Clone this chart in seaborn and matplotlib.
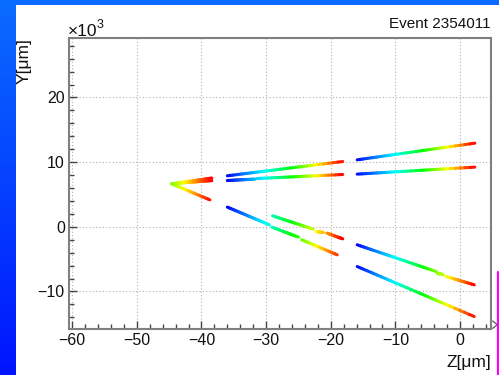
import numpy as np
import pandas as pd
import seaborn as sns
import matplotlib.pyplot as plt
from matplotlib.colors import LinearSegmentedColormap
from matplotlib.ticker import MultipleLocator, FuncFormatter
from matplotlib.lines import Line2D
from matplotlib.patches import Rectangle

# Track pieces (Z in um, Y in um)
station = [0, 0, 0,
           1, 1, 1, 1, 1, 1, 1, 1, 1,
           2, 2, 2, 2, 2, 2]
z_start = [-44.6, -44.6, -44.6,
           -36.0, -36.0, -31.4, -36.0, -29.1, -24.5, -29.0, -22.2, -20.6,
           -15.9, -15.9, -15.9, -3.5, -2.1, -15.9]
y_start = [6650, 6650, 6650,
           7890, 7160, 7470, 3050, -50, -2000, 1700, -730, -970,
           10360, 8150, -2780, -7160, -7690, -6140]
z_end = [-38.4, -38.4, -38.7,
         -18.15, -31.7, -18.15, -29.5, -25.0, -19.0, -22.7, -21.15, -18.15,
         2.3, 2.3, -3.7, -2.6, 2.2, 2.2]
y_end = [7550, 7150, 4170,
         10100, 7380, 8090, 310, -1590, -4330, -360, -880, -1860,
         12940, 9230, -6910, -7420, -8970, -13870]

# Z range of each station, used for the colour scale along the tracks
station_lo = [-57.2, -36.0, -15.9]
station_hi = [-38.4, -18.15, 2.3]

event_label = 'Event 2354011'

# Settings
sns.set_theme(style='white')
plt.rcParams['font.family'] = ['Liberation Sans', 'DejaVu Sans']
plt.rcParams['axes.unicode_minus'] = True

trk_cmap = LinearSegmentedColormap.from_list(
    'trk', [(0.0, '#0000ff'), (0.33, '#00ffff'), (0.57, '#00ff00'),
            (0.78, '#ffff00'), (1.0, '#ff0000')])

# split each piece into short pieces so the colour can run along it
rows = []
seg = 0
for st, z0, y0, z1, y1 in zip(station, z_start, y_start, z_end, y_end):
    t = np.linspace(0, 1, 25)
    zz = z0 + (z1 - z0) * t
    yy = y0 + (y1 - y0) * t
    lo, hi = station_lo[st], station_hi[st]
    for k in range(len(t) - 1):
        c = np.clip(((zz[k] + zz[k + 1]) / 2 - lo) / (hi - lo), 0, 1)
        rows.append((zz[k], yy[k], seg, c))
        rows.append((zz[k + 1], yy[k + 1], seg, c))
        seg += 1
df = pd.DataFrame(rows, columns=['z', 'y', 'seg', 'c'])

fig = plt.figure(figsize=(4.99, 3.75), dpi=100)

# blue frame + white canvas
bg = fig.add_axes([0, 0, 1, 1], zorder=-10)
grad = np.linspace(0, 1, 256).reshape(-1, 1)
bg.imshow(grad, aspect='auto', extent=[0, 1, 0, 1], origin='upper',
          cmap=LinearSegmentedColormap.from_list('bg', ['#0a6cff', '#0014ff']))
bg.add_patch(Rectangle((16 / 499, 0), 1, 1 - 5 / 375, color='white', lw=0))
bg.set_xlim(0, 1)
bg.set_ylim(0, 1)
bg.axis('off')

ax = fig.add_axes([69 / 499, 1 - 329 / 375, (491 - 69) / 499, (329 - 38) / 375])
ax.set_facecolor('white')

sns.lineplot(data=df, x='z', y='y', hue='c', units='seg', estimator=None,
             palette=trk_cmap, hue_norm=(0, 1), legend=False, sort=False,
             linewidth=2.2, ax=ax)

ax.set_xlim(-60.5, 4.8)
ax.set_ylim(-15800, 29200)
ax.xaxis.set_major_locator(MultipleLocator(10))
ax.xaxis.set_minor_locator(MultipleLocator(2))
ax.yaxis.set_major_locator(MultipleLocator(10000))
ax.yaxis.set_minor_locator(MultipleLocator(2000))
ax.yaxis.set_major_formatter(FuncFormatter(lambda v, _: f'{v / 1000:g}'.replace('-', '\u2212')))
ax.xaxis.set_major_formatter(FuncFormatter(lambda v, _: f'{v:g}'.replace('-', '\u2212')))
ax.grid(True, which='major', linestyle=(0, (1, 2)), color='#b0b0b0', linewidth=0.8)
ax.tick_params(which='both', direction='in', bottom=True, left=True,
               top=False, right=False, color='#444444', width=1,
               labelsize=11.5, pad=3, labelcolor='#111111')
ax.tick_params(which='major', length=5.8)
ax.tick_params(which='minor', length=3.8)
for s in ax.spines.values():
    s.set_color('#808080')
    s.set_linewidth(1.5)
ax.set_xlabel('')
ax.set_ylabel('')

fig.text(491 / 499, 1 - 28.3 / 375, event_label, ha='right', va='baseline',
         fontsize=11, color='#111111')
fig.text(68 / 499, 1 - 36.5 / 375, '\u00d710', ha='left', va='baseline',
         fontsize=12.5, color='#111111')
fig.text(97 / 499, 1 - 27.5 / 375, '3', ha='left', va='baseline',
         fontsize=9, color='#111111')
fig.text(24.5 / 499, 1 - 38 / 375, 'Y[\u03bcm]', rotation=90, ha='center',
         va='top', fontsize=12.5, color='#111111')
fig.text(491 / 499, 1 - 367 / 375, 'Z[\u03bcm]', ha='right', va='baseline',
         fontsize=12.5, color='#111111')

# axis arrow and the magenta edge line
fig.add_artist(Line2D([492.7 / 499, 497.3 / 499, 492.7 / 499],
                      [1 - 321 / 375, 1 - 324.7 / 375, 1 - 328.3 / 375],
                      color='#666666', lw=1))
fig.add_artist(Line2D([497.8 / 499, 497.8 / 499], [0, 1 - 271.7 / 375],
                      color='#ff00ff', lw=1.6))

fig.savefig('out.png', dpi=100)
